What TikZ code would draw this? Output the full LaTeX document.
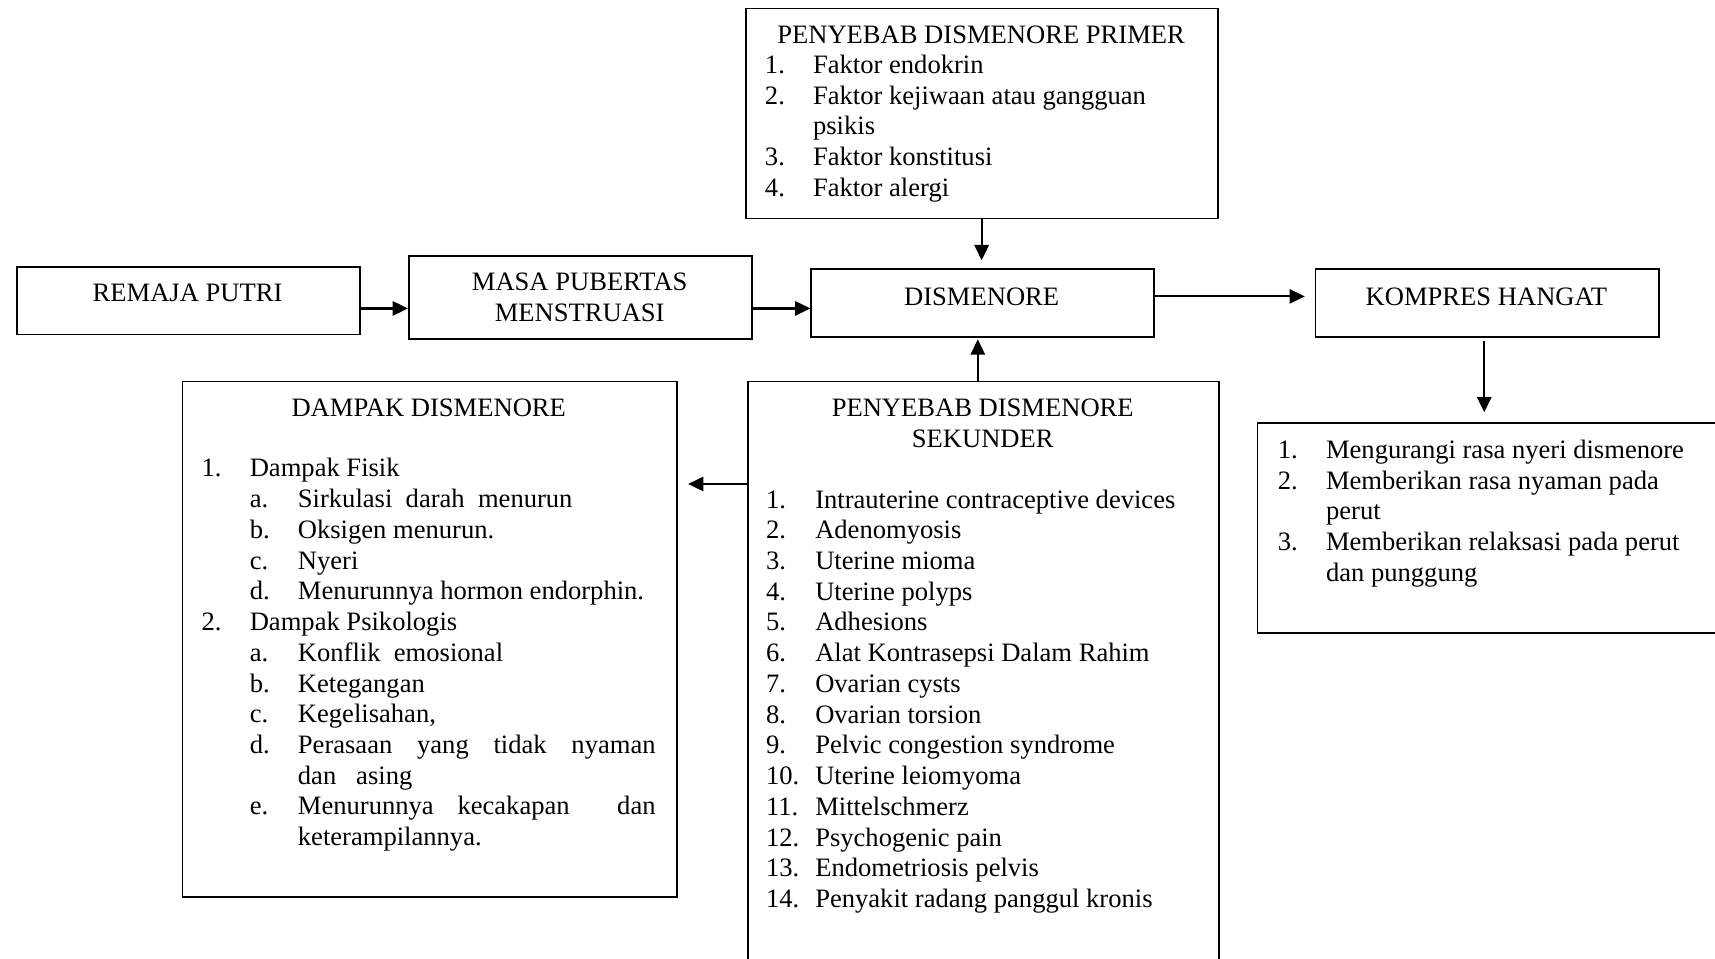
\documentclass[tikz,border=0pt]{standalone}
\usepackage{fontspec}
\setmainfont{Liberation Serif}
\usetikzlibrary{arrows.meta}
\begin{document}
\begin{tikzpicture}[x=0.5pt,y=-0.5pt,
  box/.style={draw,line width=0.8pt,rectangle,anchor=north west,inner sep=0pt},
  txt/.style={inner sep=0pt,font=\fontsize{12.15}{14.05}\selectfont},
  arr/.style={line width=1pt,-{Triangle[length=7pt,width=6.5pt]}}]
\useasboundingbox (0,0) rectangle (1568,876);
\clip (0,0) rectangle (1568,876);
\fill[white] (0,0) rectangle (1568,876);

% boxes
\node[box,minimum width=216pt,minimum height=96pt] (primer) at (681,7) {};
\node[box,minimum width=156.5pt,minimum height=31pt] (remaja) at (15,243) {};
\node[box,minimum width=157pt,minimum height=38pt] (masa) at (373,233) {};
\node[box,minimum width=156.5pt,minimum height=31pt] (dism) at (741,245) {};
\node[box,minimum width=157pt,minimum height=31pt] (kompres) at (1202,245) {};
\node[box,minimum width=216pt,minimum height=96pt] (manfaat) at (1149,386) {};
\node[box,minimum width=226pt,minimum height=235.5pt] (dampak) at (166,348) {};
\node[box,minimum width=215.5pt,minimum height=290pt] (sek) at (683,348) {};

% texts
\node[txt,anchor=base] (primerT) at (897,39.5) {PENYEBAB DISMENORE PRIMER};
\node[txt,anchor=base west] (primerL) at (699,67) {\begin{tabular}[t]{@{}p{22pt}@{}l@{}}
1. & Faktor endokrin\\
2. & Faktor kejiwaan atau gangguan\\
   & psikis\\
3. & Faktor konstitusi\\
4. & Faktor alergi
\end{tabular}};

\node[txt,anchor=base] (remajaT) at (171.5,276) {REMAJA PUTRI};
\node[txt,anchor=base] (masaT) at (530,266) {\begin{tabular}[t]{@{}c@{}}MASA PUBERTAS\\ MENSTRUASI\end{tabular}};
\node[txt,anchor=base] (dismT) at (897.5,279) {DISMENORE};
\node[txt,anchor=base] (kompresT) at (1359,279) {KOMPRES HANGAT};

\node[txt,anchor=base west] (manfaatL) at (1168,419) {\begin{tabular}[t]{@{}p{22pt}@{}l@{}}
1. & Mengurangi rasa nyeri dismenore\\
2. & Memberikan rasa nyaman pada\\
   & perut\\
3. & Memberikan relaksasi pada perut\\
   & dan punggung
\end{tabular}};

\node[txt,anchor=base] (dampakT) at (392,381) {DAMPAK DISMENORE};
\node[txt,anchor=base west] (dampakL) at (184,436) {\begin{tabular}[t]{@{}p{22pt}@{}p{22pt}@{}l@{}}
1. & \multicolumn{2}{@{}l@{}}{Dampak Fisik}\\
   & a. & Sirkulasi\ \ darah\ \ menurun\\
   & b. & Oksigen menurun.\\
   & c. & Nyeri\\
   & d. & Menurunnya hormon endorphin.\\
2. & \multicolumn{2}{@{}l@{}}{Dampak Psikologis}\\
   & a. & Konflik\ \ emosional\\
   & b. & Ketegangan\\
   & c. & Kegelisahan,\\
   & d. & \makebox[163.5pt][s]{Perasaan yang tidak nyaman}\\
   &    & dan\ \ \ asing\\
   & e. & \makebox[163.5pt][s]{Menurunnya kecakapan\ \ dan}\\
   &    & keterampilannya.
\end{tabular}};

\node[txt,anchor=base] (sekT) at (898.5,381) {\begin{tabular}[t]{@{}c@{}}PENYEBAB DISMENORE\\ SEKUNDER\end{tabular}};
\node[txt,anchor=base west] (sekL) at (700,464.5) {\begin{tabular}[t]{@{}p{22.5pt}@{}l@{}}
1. & Intrauterine contraceptive devices\\
2. & Adenomyosis\\
3. & Uterine mioma\\
4. & Uterine polyps\\
5. & Adhesions\\
6. & Alat Kontrasepsi Dalam Rahim\\
7. & Ovarian cysts\\
8. & Ovarian torsion\\
9. & Pelvic congestion syndrome\\
10. & Uterine leiomyoma\\
11. & Mittelschmerz\\
12. & Psychogenic pain\\
13. & Endometriosis pelvis\\
14. & Penyakit radang panggul kronis
\end{tabular}};

% connectors
\draw[arr] (remaja.east |- 0,282) -- (masa.west |- 0,282);
\draw[arr] (masa.east |- 0,282) -- (dism.west |- 0,282);
\draw[arr,shorten >=3.5pt] (primer.south -| 897.5,0) -- (dism.north -| 897.5,0);
\draw[arr,shorten >=0.8pt] (sek.north -| 894,0) -- (dism.south -| 894,0);
\draw[arr,shorten >=4.5pt] (dism.east |- 0,271) -- (kompres.west |- 0,271);
\draw[arr,shorten <=1.5pt,shorten >=4.5pt] (kompres.south -| 1357,0) -- (manfaat.north -| 1357,0);
\draw[arr,shorten >=4.75pt] (sek.west |- 0,442.5) -- (dampak.east |- 0,442.5);
\end{tikzpicture}
\end{document}
